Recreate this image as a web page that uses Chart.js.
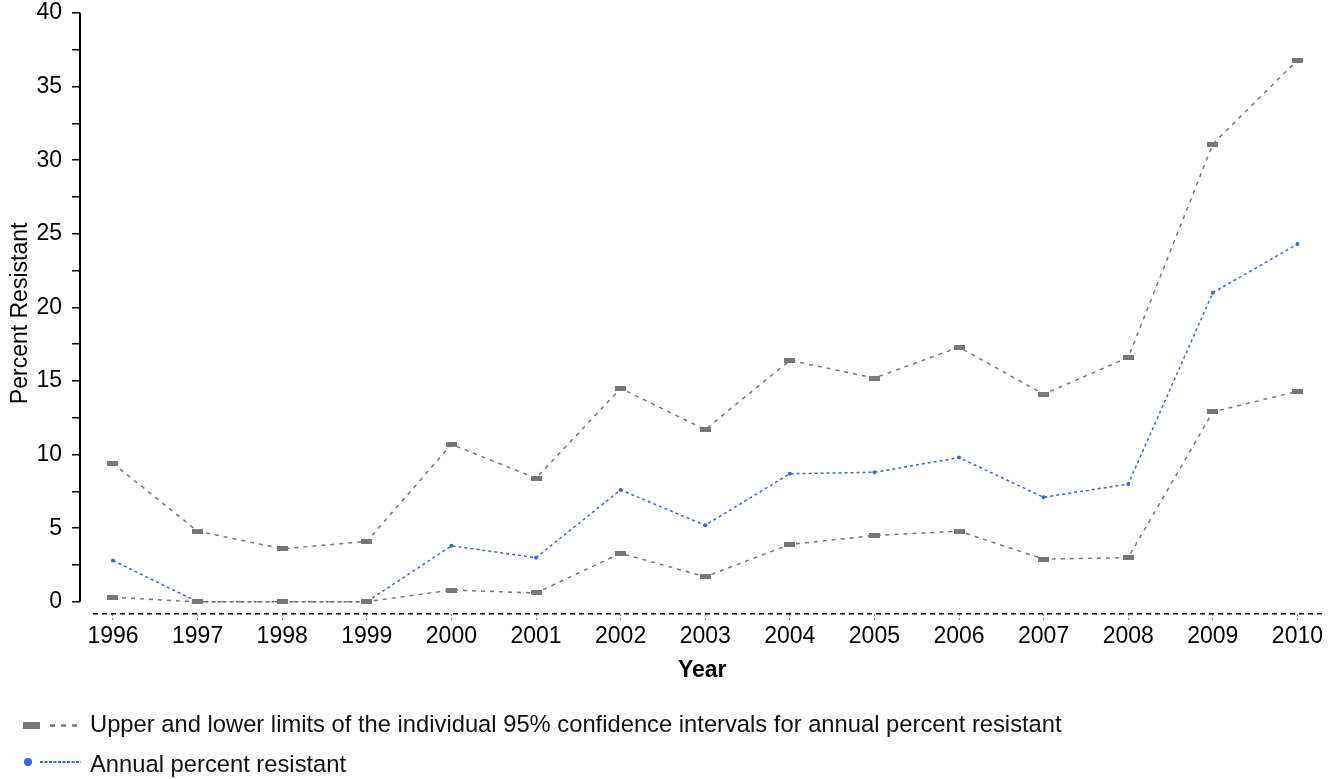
<!DOCTYPE html>
<html lang="en">
<head>
<meta charset="UTF-8">
<title>Percent Resistant by Year</title>
<script src="https://cdn.jsdelivr.net/npm/chart.js"></script>
<style>
  html, body { margin: 0; padding: 0; background: #fff; }
  #wrap { width: 1331px; height: 779px; }
</style>
</head>
<body>
<div id="wrap"><canvas id="resistChart"></canvas></div>
<script>
// values
const years = [1996, 1997, 1998, 1999, 2000, 2001, 2002, 2003, 2004, 2005, 2006, 2007, 2008, 2009, 2010];
const upperLimit = [9.4, 4.8, 3.6, 4.1, 10.7, 8.4, 14.5, 11.7, 16.4, 15.2, 17.3, 14.1, 16.6, 31.1, 36.8];
const annualPct = [2.8, 0, 0, 0, 3.8, 3.0, 7.6, 5.2, 8.7, 8.8, 9.8, 7.1, 8.0, 21.0, 24.3];
const lowerLimit = [0.3, 0, 0, 0, 0.8, 0.6, 3.3, 1.7, 3.9, 4.5, 4.8, 2.9, 3.0, 12.9, 14.3];
const yTicks = [0, 2.5, 5, 7.5, 10, 12.5, 15, 17.5, 20, 22.5, 25, 27.5, 30, 32.5, 35, 37.5, 40];
const legendLabels = [
  'Upper and lower limits of the individual 95% confidence intervals for annual percent resistant',
  'Annual percent resistant'
];

const GRAY = '#777777';
const BLUE = '#3b66d8';
const FONT = 'Arial, "Liberation Sans", sans-serif';

// little flat gray bar used as the CI marker
const bar = document.createElement('canvas');
bar.width = 11; bar.height = 5;
const bctx = bar.getContext('2d');
bctx.fillStyle = '#777';
bctx.fillRect(0, 0, 11, 5);

const pts = arr => years.map((yr, i) => ({ x: yr, y: arr[i] }));

const axesAndLegend = {
  id: 'axesAndLegend',
  afterDraw(chart) {
    const ctx = chart.ctx;
    const area = chart.chartArea;
    const y = chart.scales.y;
    ctx.save();
    // y axis line 0..40
    ctx.strokeStyle = '#000';
    ctx.lineWidth = 2;
    ctx.beginPath();
    ctx.moveTo(area.left, y.getPixelForValue(40));
    ctx.lineTo(area.left, y.getPixelForValue(0));
    ctx.stroke();
    // dashed x axis line
    ctx.lineWidth = 1.5;
    ctx.setLineDash([5, 4]);
    ctx.beginPath();
    ctx.moveTo(area.left + 13, area.bottom);
    ctx.lineTo(area.right, area.bottom);
    ctx.stroke();

    // legend
    ctx.font = '23.75px ' + FONT;
    ctx.fillStyle = '#111';
    ctx.textBaseline = 'alphabetic';
    ctx.fillText(legendLabels[0], 90, 732);
    ctx.fillText(legendLabels[1], 90, 772);

    ctx.fillStyle = '#777';
    ctx.fillRect(23, 722, 17, 7);
    ctx.strokeStyle = GRAY;
    ctx.lineWidth = 2.5;
    ctx.setLineDash([5, 6]);
    ctx.beginPath();
    ctx.moveTo(50, 725.5);
    ctx.lineTo(82, 725.5);
    ctx.stroke();

    ctx.fillStyle = BLUE;
    ctx.beginPath();
    ctx.arc(28, 762, 4, 0, Math.PI * 2);
    ctx.fill();
    ctx.strokeStyle = BLUE;
    ctx.lineWidth = 2;
    ctx.setLineDash([3, 1.5]);
    ctx.beginPath();
    ctx.moveTo(40, 762);
    ctx.lineTo(81, 762);
    ctx.stroke();
    ctx.restore();
  }
};

new Chart(document.getElementById('resistChart'), {
  type: 'line',
  data: {
    datasets: [
      {
        label: 'Upper limit',
        data: pts(upperLimit),
        borderColor: GRAY,
        borderWidth: 1.5,
        borderDash: [4, 5],
        pointStyle: bar,
        pointRadius: 5,
        tension: 0
      },
      {
        label: 'Lower limit',
        data: pts(lowerLimit),
        borderColor: GRAY,
        borderWidth: 1.5,
        borderDash: [4, 5],
        pointStyle: bar,
        pointRadius: 5,
        tension: 0
      },
      {
        label: legendLabels[1],
        data: pts(annualPct),
        borderColor: BLUE,
        backgroundColor: BLUE,
        borderWidth: 1.5,
        borderDash: [3, 3],
        pointStyle: 'circle',
        pointRadius: 2,
        pointBorderWidth: 0,
        tension: 0
      }
    ]
  },
  options: {
    responsive: true,
    maintainAspectRatio: false,
    animation: false,
    layout: { padding: { top: 0, right: 6, left: 2, bottom: 95 } },
    plugins: {
      legend: { display: false },
      tooltip: { enabled: false }
    },
    scales: {
      x: {
        type: 'linear',
        min: 1995.61,
        max: 2010.32,
        afterBuildTicks: s => { s.ticks = years.map(v => ({ value: v })); },
        ticks: {
          callback: v => String(v),
          color: '#000',
          font: { family: FONT, size: 23 },
          padding: 1,
          maxRotation: 0,
          autoSkip: false
        },
        grid: {
          drawOnChartArea: false,
          drawTicks: true,
          tickLength: 8,
          color: '#888',
          tickBorderDash: [2, 2]
        },
        border: { display: false },
        title: {
          display: true,
          text: 'Year',
          color: '#000',
          font: { family: FONT, size: 23, weight: 'bold' },
          padding: { top: 5, bottom: 0 }
        }
      },
      y: {
        min: -0.815,
        max: 40,
        afterBuildTicks: s => { s.ticks = yTicks.map(v => ({ value: v })); },
        afterFit: s => {
          s.width = 78;
          s.paddingTop = 13;
          s.paddingBottom = 0;
        },
        ticks: {
          callback: v => (v % 5 === 0 ? String(v) : ''),
          color: '#000',
          font: { family: FONT, size: 23 },
          padding: 10
        },
        grid: {
          drawOnChartArea: false,
          drawTicks: true,
          tickLength: 8,
          color: '#000',
          lineWidth: 1.5
        },
        border: { display: false },
        title: {
          display: true,
          text: 'Percent Resistant',
          color: '#000',
          font: { family: FONT, size: 23 },
          padding: { top: 5, bottom: 2 }
        }
      }
    }
  },
  plugins: [axesAndLegend]
});
</script>
</body>
</html>
